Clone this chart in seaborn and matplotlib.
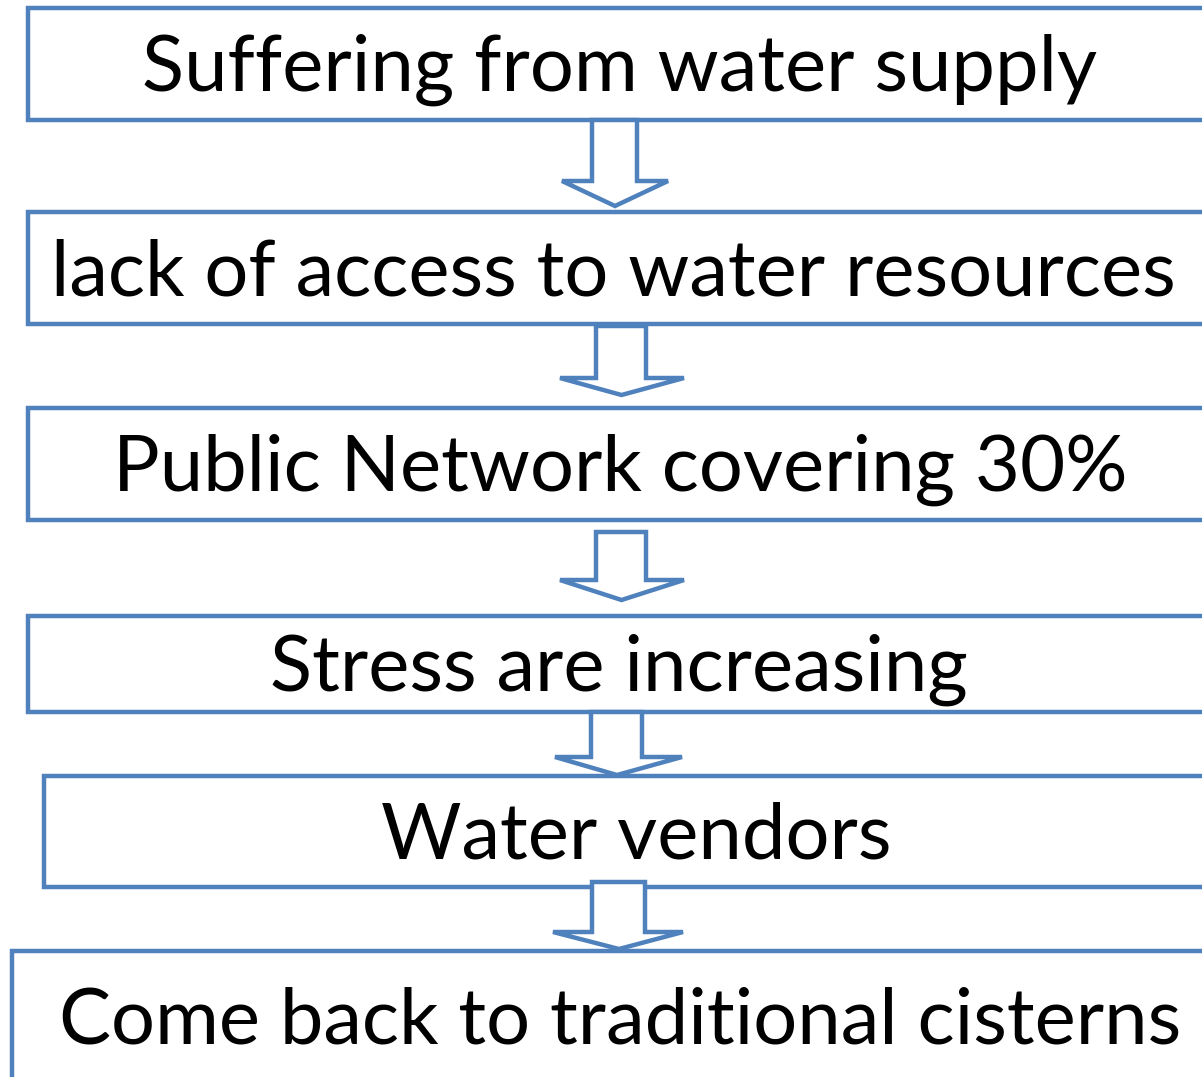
import matplotlib.pyplot as plt
import seaborn as sns
from matplotlib.patches import Rectangle, Polygon

sns.set_style("white")
plt.rcParams['font.family'] = ['Lato', 'DejaVu Sans']

# flowchart steps, top to bottom
labels = [
    "Suffering from water supply",
    "lack of access to water resources",
    "Public Network covering 30%",
    "Stress are increasing",
    "Water vendors",
    "Come back to traditional cisterns",
]
box_left = [28, 28, 28, 28, 44, 12]
box_top = [8, 212, 408, 616, 776, 951]
box_bottom = [120, 324, 520, 712, 887, 1082]
text_x = [620, 613, 620, 619, 636, 620]

# arrows between steps: shaft left/right, shaft top, head base, tip
arr_shaft_l = [592, 596, 596, 591, 592]
arr_shaft_r = [637, 646, 646, 642, 645]
arr_head_l = [562, 560, 560, 555, 553]
arr_head_r = [668, 684, 684, 682, 683]
arr_top = [120, 326, 532, 712, 882]
arr_base = [181, 378, 580, 757, 932]
arr_tip = [206, 395, 600, 775, 949]

blue = "#4F81BD"

fig = plt.figure(figsize=(12.02, 10.77), dpi=100)
ax = fig.add_axes([0, 0, 1, 1])
ax.set_xlim(0, 1202)
ax.set_ylim(1077, 0)
ax.axis("off")

for lab, x0, y0, y1, tx in zip(labels, box_left, box_top, box_bottom, text_x):
    ax.add_patch(Rectangle((x0, y0), 1300 - x0, y1 - y0, facecolor="white",
                           edgecolor=blue, linewidth=3.2, zorder=1))
    ax.text(tx, (y0 + y1) / 2 + 27, lab, ha="center", va="baseline",
            fontsize=56, color="black", zorder=3)

for sl, sr, hl, hr, t, b, tip in zip(arr_shaft_l, arr_shaft_r, arr_head_l, arr_head_r,
                                      arr_top, arr_base, arr_tip):
    pts = [(sl, t), (sr, t), (sr, b), (hr, b), ((sl + sr) / 2 + 0.5, tip),
           (hl, b), (sl, b)]
    ax.add_patch(Polygon(pts, closed=True, facecolor="white", edgecolor=blue,
                         linewidth=3.2, joinstyle="miter", zorder=2))

fig.savefig("out.png", dpi=100)
